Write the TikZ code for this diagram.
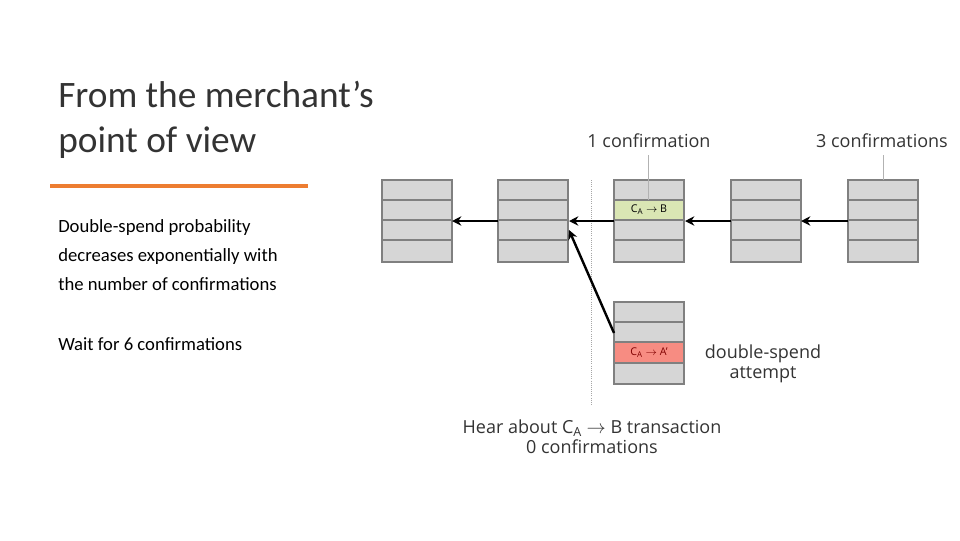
\documentclass[tikz,border=0pt]{standalone}
\usepackage{fontspec}
\setmainfont{Carlito}
\newfontfamily\dia{Open Sans}
\usetikzlibrary{arrows.meta}
\definecolor{blk}{RGB}{214,214,214}
\definecolor{bord}{RGB}{128,128,128}
\definecolor{grn}{RGB}{218,230,180}
\definecolor{rd}{RGB}{247,140,130}
\definecolor{org}{RGB}{237,125,49}
\begin{document}
\begin{tikzpicture}[x=0.75pt,y=-0.75pt,
  cell/.style={draw=bord,line width=1.3pt,fill=blk},
  link/.style={line width=1.8pt,-{Stealth[length=7pt,width=7pt]}},
  lab/.style={font=\dia\fontsize{13.5}{16}\selectfont,text=black!80,inner sep=0},
  tx/.style={font=\dia\fontsize{8}{9}\selectfont,inner sep=0}]
\useasboundingbox (0,0) rectangle (960,540);
% left text
\node[anchor=base west,inner sep=0,font=\fontsize{28}{34}\selectfont,text=black!80] (t1) at (58,107) {From the merchant’s};
\node[anchor=base west,inner sep=0,font=\fontsize{28}{34}\selectfont,text=black!80] (t2) at (58,152) {point of view};
\draw[org,line width=3pt] (50,186) -- (308,186);
\node[anchor=base west,inner sep=0,font=\fontsize{14}{17}\selectfont] (b1) at (58,232) {Double-spend probability};
\node[anchor=base west,inner sep=0,font=\fontsize{14}{17}\selectfont] (b2) at (58,261) {decreases exponentially with};
\node[anchor=base west,inner sep=0,font=\fontsize{14}{17}\selectfont] (b3) at (58,290) {the number of confirmations};
\node[anchor=base west,inner sep=0,font=\fontsize{14}{17}\selectfont] (b4) at (58,350) {Wait for 6 confirmations};
% dotted line
\draw[black!35,densely dotted,line width=0.6pt] (591,180) -- (591,405);
% blocks
\foreach \n/\x in {1/382,2/498,3/614,4/731,5/848}{
  \foreach \i/\ya/\yb in {a/180/200,b/200/220,c/220/240,d/240/262}{
    \path[cell] (\x,\ya) rectangle (\x+70,\yb);
  }
  \coordinate (B\n) at (\x+35,221);
}
\path[cell,fill=grn] (614,200) rectangle (684,220);
\node[tx] (g) at (649,210) {C\textsubscript{A} $\rightarrow$ B};
\foreach \ya/\yb in {302/322,322/342,342/363,363/384}{
  \path[cell] (614,\ya) rectangle (684,\yb);
}
\path[cell,fill=rd] (614,342) rectangle (684,363);
\node[tx,text=red!50!black] (r) at (649,352.5) {C\textsubscript{A} $\rightarrow$ A’};
\coordinate (D) at (649,343);
% links
\coordinate (L5) at (848,221); \coordinate (R4) at (801,221);
\coordinate (L4) at (731,221); \coordinate (R3) at (685,221);
\coordinate (L3) at (614,221); \coordinate (R2) at (569,221);
\coordinate (L2) at (498,221); \coordinate (R1) at (452,221);
\coordinate (DL) at (614,333); \coordinate (R2b) at (569,230);
\draw[link] (L5) -- (R4);
\draw[link] (L4) -- (R3);
\draw[link] (L3) -- (R2);
\draw[link] (L2) -- (R1);
\draw[link] (DL) -- (R2b);
% labels
\node[lab] (c1) at (649,141) {1 confirmation};
\node[lab] (c3) at (882,141) {3 confirmations};
\draw[black!30,line width=0.5pt] (648,155) -- (648,200);
\draw[black!30,line width=0.5pt] (883,155) -- (883,180);
\node[lab,align=center] (ds) at (763,364) {double-spend\\[-1pt]attempt};
\node[lab,align=center] (h) at (592,437) {Hear about C\textsubscript{A} $\rightarrow$ B transaction\\[-1pt]0 confirmations};
\end{tikzpicture}
\end{document}
